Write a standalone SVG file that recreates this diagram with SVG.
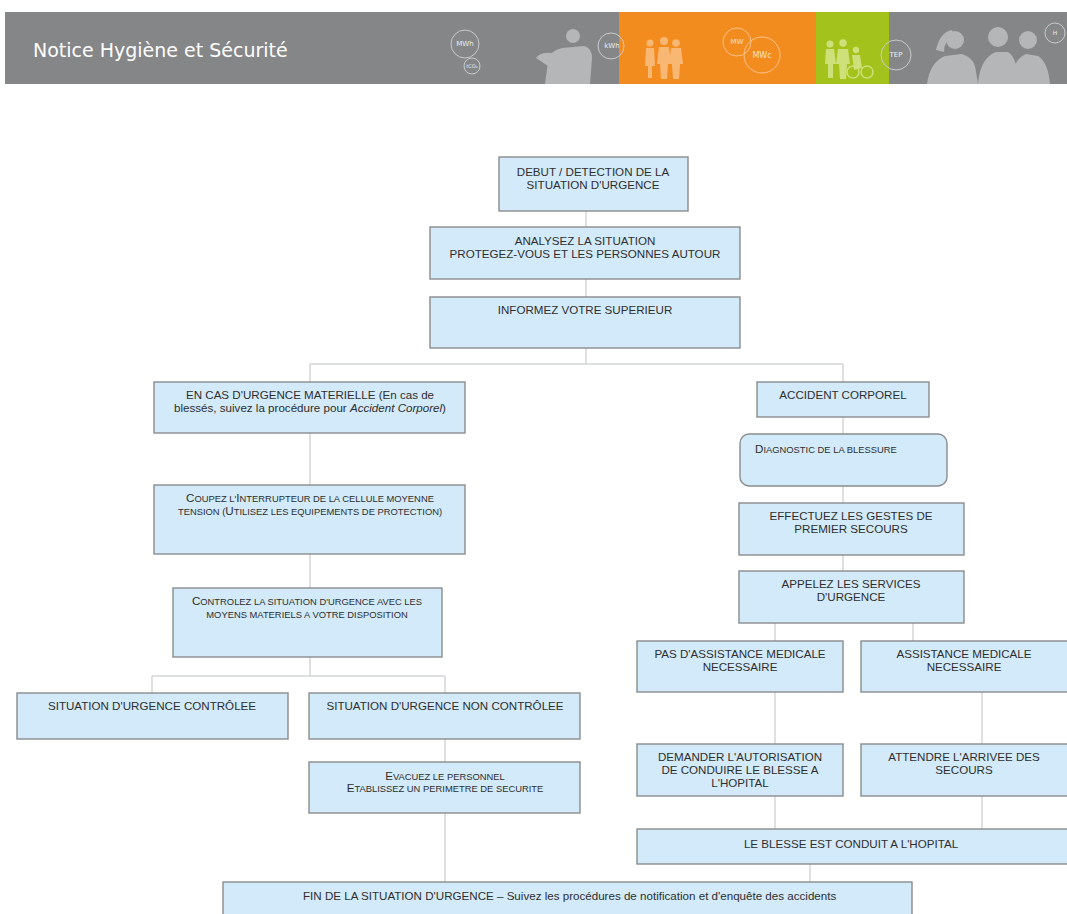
<svg xmlns="http://www.w3.org/2000/svg" width="1067" height="914" viewBox="0 0 1067 914">
  <style>
    .box { fill: #d3eafa; stroke: #8a8c8e; stroke-width: 1.4; }
    .t { font-family: "Liberation Sans", Arial, sans-serif; font-size: 11.6px; fill: #2e2e2e; text-anchor: middle; }
    .tl { text-anchor: start; }
    .sc { font-size: 9.4px; }
    .conn { stroke: #d4d6d8; stroke-width: 1.5; fill: none; }
    .ring { fill: none; stroke-width: 1; }
    .rt { font-family: "DejaVu Sans", sans-serif; font-size: 7px; text-anchor: middle; }
  </style>

  <rect width="1067" height="914" fill="#ffffff"/>

  <!-- banner -->
  <g id="banner">
    <rect x="5" y="12" width="1062" height="72" fill="#858688"/>
    <rect x="619" y="12" width="197" height="72" fill="#f28c1f"/>
    <rect x="816" y="12" width="73" height="72" fill="#a3c21c"/>
    <text x="33" y="57" font-family="'DejaVu Sans', sans-serif" font-size="19" fill="#ffffff">Notice Hygiène et Sécurité</text>

    <!-- grey silhouettes, left -->
    <g fill="#b5b6b8">
      <circle cx="573" cy="36" r="7"/>
      <path d="M545 84 L548 62 Q550 50 562 48 L584 46 Q592 48 592 58 L590 84 Z"/>
      <path d="M536 58 Q540 52 552 53 L560 60 L548 66 Z"/>
    </g>
    <!-- orange figures -->
    <g fill="#f9b774">
      <circle cx="650" cy="43" r="3.5"/>
      <path d="M646 48 L654 48 L655 66 L652 66 L652 78 L648 78 L648 66 L645 66 Z"/>
      <circle cx="664" cy="41" r="4"/>
      <path d="M659 47 L669 47 L671 64 L668 64 L667 79 L661 79 L660 64 L657 64 Z"/>
      <circle cx="676" cy="43" r="3.8"/>
      <path d="M671 48 L681 48 L683 64 L680 64 L679 79 L673 79 L672 64 L669 64 Z"/>
    </g>
    <!-- green figures -->
    <g fill="#cde07a">
      <circle cx="830" cy="44" r="3.5"/>
      <path d="M826 49 L834 49 L836 64 L833 64 L833 78 L828 78 L828 64 L825 64 Z"/>
      <circle cx="843" cy="43" r="3.8"/>
      <path d="M838 49 L848 49 L850 64 L847 64 L846 79 L840 79 L839 64 L836 64 Z"/>
      <circle cx="856" cy="50" r="3.2"/>
      <path d="M852 55 L860 55 L862 68 L854 70 Z"/>
      <circle cx="853" cy="72" r="6" fill="none" stroke="#cde07a" stroke-width="1.5"/>
      <circle cx="867" cy="72" r="6" fill="none" stroke="#cde07a" stroke-width="1.5"/>
    </g>
    <!-- grey silhouettes, right -->
    <g fill="#b5b6b8">
      <circle cx="955" cy="40" r="9"/>
      <path d="M927 84 Q930 62 945 56 L962 54 Q975 58 976 72 L978 84 Z"/>
      <path d="M936 50 Q940 32 952 30 L954 36 Q944 40 944 52 Z"/>
      <circle cx="998" cy="37" r="10"/>
      <path d="M978 84 Q980 58 996 52 L1008 52 Q1018 58 1018 84 Z"/>
      <circle cx="1028" cy="40" r="9"/>
      <path d="M1010 84 Q1012 60 1026 54 L1038 56 Q1048 62 1050 84 Z"/>
    </g>

    <!-- unit rings -->
    <g class="ring" stroke="#c9cacb">
      <circle cx="465" cy="44" r="14"/>
      <circle cx="472" cy="66" r="8"/>
      <circle cx="611" cy="46" r="13"/>
      <circle cx="896" cy="55" r="15"/>
      <circle cx="1055" cy="33" r="10"/>
    </g>
    <g class="ring" stroke="#fbc38c">
      <circle cx="737" cy="42" r="14"/>
      <circle cx="762" cy="55" r="18"/>
    </g>
    <g class="rt" fill="#ecedee">
      <text x="465" y="46">MWh</text>
      <text x="472" y="68" font-size="5">tCO₂</text>
      <text x="612" y="48">kWh</text>
      <text x="896" y="57">TEP</text>
      <text x="1055" y="35" font-size="6">H</text>
    </g>
    <g class="rt" fill="#fde2c6">
      <text x="737" y="44">MW</text>
      <text x="762" y="58" font-size="8">MWc</text>
    </g>
  </g>

  <!-- connectors -->
  <g id="connectors" class="conn">
    <path d="M586 211 V227 M586 279 V297 M586 348 V364"/>
    <path d="M310 364 H843 M310 364 V382 M843 364 V382"/>
    <path d="M310 433 V485 M310 554 V588 M310 657 V676"/>
    <path d="M152 676 H445 M152 676 V693 M445 676 V693"/>
    <path d="M445 739 V762 M445 813 V882"/>
    <path d="M843 417 V434 M843 486 V503 M843 555 V571"/>
    <path d="M775 623 V641 M913 623 V641"/>
    <path d="M775 692 V744 M982 692 V744"/>
    <path d="M775 796 V829 M982 796 V829"/>
    <path d="M810 864 V882"/>
  </g>

  <!-- main trunk -->
  <g id="n-debut">
    <rect class="box" x="499" y="157" width="189" height="54"/>
    <text class="t" x="593" y="176">DEBUT / DETECTION DE LA</text>
    <text class="t" x="593" y="189">SITUATION D'URGENCE</text>
  </g>
  <g id="n-analysez">
    <rect class="box" x="430" y="227" width="310" height="52"/>
    <text class="t" x="585" y="245">ANALYSEZ LA SITUATION</text>
    <text class="t" x="585" y="258">PROTEGEZ-VOUS ET LES PERSONNES AUTOUR</text>
  </g>
  <g id="n-informez">
    <rect class="box" x="430" y="297" width="310" height="51"/>
    <text class="t" x="585" y="314">INFORMEZ VOTRE SUPERIEUR</text>
  </g>

  <!-- material emergency branch -->
  <g id="n-materielle">
    <rect class="box" x="154" y="382" width="311" height="51"/>
    <text class="t" x="310" y="399">EN CAS D'URGENCE MATERIELLE (En cas de</text>
    <text class="t" x="310" y="412">blessés, suivez la procédure pour <tspan font-style="italic">Accident Corporel</tspan>)</text>
  </g>
  <g id="n-coupez">
    <rect class="box" x="154" y="485" width="311" height="69"/>
    <text class="t" x="310" y="502">C<tspan class="sc">OUPEZ L'</tspan>I<tspan class="sc">NTERRUPTEUR DE LA CELLULE MOYENNE</tspan></text>
    <text class="t" x="310" y="515"><tspan class="sc">TENSION (</tspan>U<tspan class="sc">TILISEZ LES EQUIPEMENTS DE PROTECTION)</tspan></text>
  </g>
  <g id="n-controlez">
    <rect class="box" x="173" y="588" width="269" height="69"/>
    <text class="t" x="307" y="605">C<tspan class="sc">ONTROLEZ LA SITUATION D'URGENCE AVEC LES</tspan></text>
    <text class="t" x="307" y="618"><tspan class="sc">MOYENS MATERIELS A VOTRE DISPOSITION</tspan></text>
  </g>
  <g id="n-controlee">
    <rect class="box" x="17" y="693" width="271" height="46"/>
    <text class="t" x="152" y="710">SITUATION D'URGENCE CONTRÔLEE</text>
  </g>
  <g id="n-non-controlee">
    <rect class="box" x="309" y="693" width="271" height="46"/>
    <text class="t" x="445" y="710">SITUATION D'URGENCE NON CONTRÔLEE</text>
  </g>
  <g id="n-evacuez">
    <rect class="box" x="309" y="762" width="271" height="51"/>
    <text class="t" x="445" y="780">E<tspan class="sc">VACUEZ LE PERSONNEL</tspan></text>
    <text class="t" x="445" y="792">E<tspan class="sc">TABLISSEZ UN PERIMETRE DE SECURITE</tspan></text>
  </g>

  <!-- bodily injury branch -->
  <g id="n-corporel">
    <rect class="box" x="757" y="382" width="172" height="35"/>
    <text class="t" x="843" y="399">ACCIDENT CORPOREL</text>
  </g>
  <g id="n-diagnostic">
    <rect class="box" x="740" y="434" width="207" height="52" rx="9" ry="9"/>
    <text class="t tl" x="755" y="453">D<tspan class="sc">IAGNOSTIC DE LA BLESSURE</tspan></text>
  </g>
  <g id="n-effectuez">
    <rect class="box" x="739" y="503" width="225" height="52"/>
    <text class="t" x="851" y="520">EFFECTUEZ LES GESTES DE</text>
    <text class="t" x="851" y="533">PREMIER SECOURS</text>
  </g>
  <g id="n-appelez">
    <rect class="box" x="739" y="571" width="225" height="52"/>
    <text class="t" x="851" y="588">APPELEZ LES SERVICES</text>
    <text class="t" x="851" y="601">D'URGENCE</text>
  </g>
  <g id="n-pas-assistance">
    <rect class="box" x="637" y="641" width="206" height="51"/>
    <text class="t" x="740" y="658">PAS D'ASSISTANCE MEDICALE</text>
    <text class="t" x="740" y="671">NECESSAIRE</text>
  </g>
  <g id="n-assistance">
    <rect class="box" x="861" y="641" width="210" height="51"/>
    <text class="t" x="964" y="658">ASSISTANCE MEDICALE</text>
    <text class="t" x="964" y="671">NECESSAIRE</text>
  </g>
  <g id="n-demander">
    <rect class="box" x="637" y="744" width="206" height="52"/>
    <text class="t" x="740" y="761">DEMANDER L'AUTORISATION</text>
    <text class="t" x="740" y="774">DE CONDUIRE LE BLESSE A</text>
    <text class="t" x="740" y="787">L'HOPITAL</text>
  </g>
  <g id="n-attendre">
    <rect class="box" x="861" y="744" width="210" height="52"/>
    <text class="t" x="964" y="761">ATTENDRE L'ARRIVEE DES</text>
    <text class="t" x="964" y="774">SECOURS</text>
  </g>
  <g id="n-hopital">
    <rect class="box" x="637" y="829" width="434" height="35"/>
    <text class="t" x="851" y="848">LE BLESSE EST CONDUIT A L'HOPITAL</text>
  </g>

  <!-- end -->
  <g id="n-fin">
    <rect class="box" x="223" y="882" width="689" height="40"/>
    <text class="t tl" x="303" y="900">FIN DE LA SITUATION D'URGENCE – Suivez les procédures de notification et d'enquête des accidents</text>
  </g>
</svg>
